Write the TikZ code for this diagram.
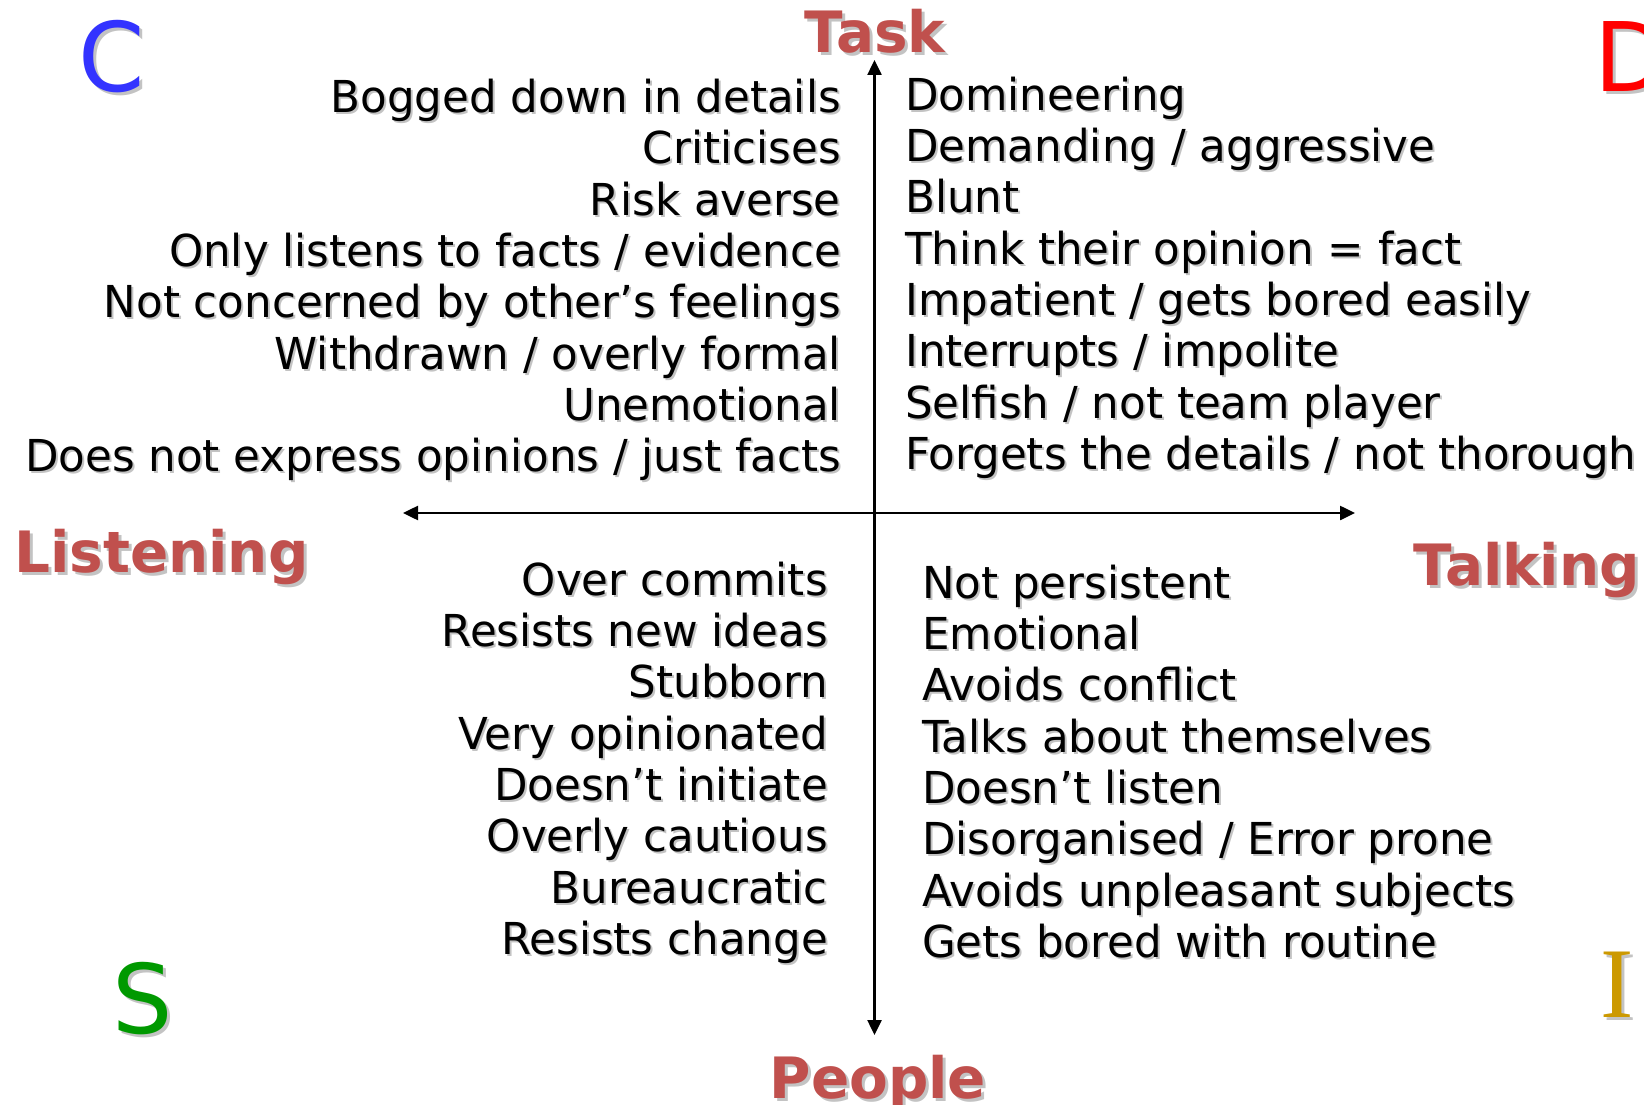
\documentclass[tikz,border=0pt]{standalone}
\usepackage{fontspec}
\setmainfont{DejaVu Sans}[FakeStretch=0.99]
\newfontfamily\serifletter{Liberation Serif}
\usepackage{xcolor}
\usepackage{tikz}
\usetikzlibrary{arrows.meta,positioning}

\definecolor{headred}{RGB}{192,80,77}
\definecolor{shadegray}{RGB}{195,195,195}
\definecolor{discC}{RGB}{51,51,255}
\definecolor{discD}{RGB}{255,0,0}
\definecolor{discS}{RGB}{0,153,0}
\definecolor{discI}{RGB}{204,153,0}

% gray drop shadow behind a line of text
\newcommand{\dropshade}[2][2pt]{\leavevmode\rlap{\kern#1\raisebox{-#1}[0pt][0pt]{\textcolor{shadegray}{#2}}}#2}

\begin{document}
\begin{tikzpicture}[
    x=1pt, y=-1pt,
    letter/.style={inner sep=0pt, anchor=base west, font=\fontsize{96}{100}\selectfont},
    axislabel/.style={inner sep=0pt, text=headred, font=\fontsize{57}{60}\selectfont\bfseries},
    traits/.style={inner sep=0pt, font=\fontsize{44}{51.3}\selectfont},
    axis/.style={<->, >={Triangle[length=15pt,width=14pt]}, line width=2.5pt}
]
    \useasboundingbox (0,0) rectangle (1644,1105);

    \node[letter, text=discC] (cLetter) at (78,92) {\dropshade[3pt]{C}};
    \node[letter, text=discD] (dLetter) at (1594,92) {\dropshade[3pt]{D}};
    \node[letter, text=discS] (sLetter) at (112,1033) {\dropshade[3pt]{S}};
    \node[letter, text=discI, font=\fontsize{100}{100}\serifletter] (iLetter) at (1600,1017) {\dropshade[3pt]{I}};

    \node[axislabel, anchor=base] (task) at (875,53) {\dropshade[3pt]{Task}};
    \node[axislabel, anchor=base] (people) at (878,1098) {\dropshade[3pt]{People}};
    \node[axislabel, anchor=base west] (listening) at (14,572) {\dropshade[3pt]{Listening}};
    \node[axislabel, anchor=base east] (talking) at (1640,585) {\dropshade[3pt]{Talking}};

    \coordinate (axisTop) at (874.5,60);
    \coordinate (axisBottom) at (874.5,1035);
    \coordinate (axisLeft) at (403,513);
    \coordinate (axisRight) at (1355,513);
    \draw[axis] (axisBottom) -- (axisTop);
    \draw[axis] (axisLeft) -- (axisRight);

    \node[traits, align=right, anchor=north east] (cTraits) at (841,79) {%
        \dropshade{Bogged down in details}\\
        \dropshade{Criticises}\\
        \dropshade{Risk averse}\\
        \dropshade{Only listens to facts / evidence}\\
        \dropshade{Not concerned by other’s feelings}\\
        \dropshade{Withdrawn / overly formal}\\
        \dropshade{Unemotional}\\
        \dropshade{Does not express opinions / just facts}};
    \node[traits, align=left, anchor=north west] (dTraits) at (905,76.6) {%
        \dropshade{Domineering}\\
        \dropshade{Demanding / aggressive}\\
        \dropshade{Blunt}\\
        \dropshade{Think their opinion = fact}\\
        \dropshade{Impatient / gets bored easily}\\
        \dropshade{Interrupts / impolite}\\
        \dropshade{Selfish / not team player}\\
        \dropshade{Forgets the details / not thorough}};
    \node[traits, align=right, anchor=north east] (sTraits) at (828,561.6) {%
        \dropshade{Over commits}\\
        \dropshade{Resists new ideas}\\
        \dropshade{Stubborn}\\
        \dropshade{Very opinionated}\\
        \dropshade{Doesn’t initiate}\\
        \dropshade{Overly cautious}\\
        \dropshade{Bureaucratic}\\
        \dropshade{Resists change}};
    \node[traits, align=left, anchor=north west] (iTraits) at (922,564.6) {%
        \dropshade{Not persistent}\\
        \dropshade{Emotional}\\
        \dropshade{Avoids conflict}\\
        \dropshade{Talks about themselves}\\
        \dropshade{Doesn’t listen}\\
        \dropshade{Disorganised / Error prone}\\
        \dropshade{Avoids unpleasant subjects}\\
        \dropshade{Gets bored with routine}};
\end{tikzpicture}
\end{document}
